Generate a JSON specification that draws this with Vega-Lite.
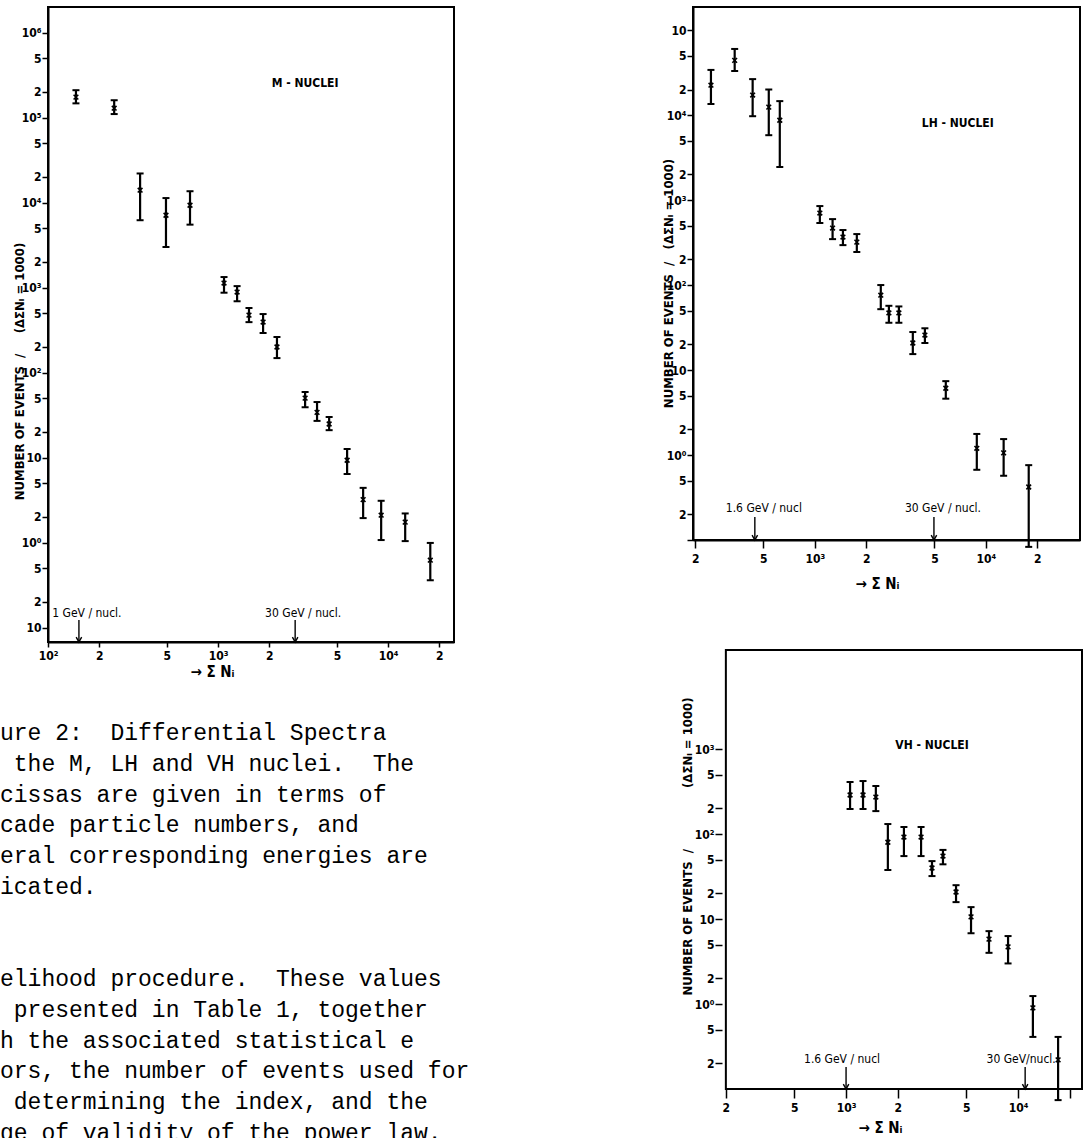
{
  "$schema": "https://vega.github.io/schema/vega-lite/v6.json",
  "autosize": {"type": "pad"},
  "padding": {"left": 0, "top": 6, "right": 0, "bottom": 0},
  "background": "white",
  "config": {
    "view": {"stroke": "black", "strokeWidth": 2},
    "axis": {
      "grid": false, "domainColor": "black", "domainWidth": 2,
      "tickColor": "black", "tickWidth": 1.5, "labelColor": "black",
      "labelFont": "Liberation Sans Narrow, DejaVu Sans Condensed, sans-serif",
      "labelFontWeight": "bold", "labelFontSize": 12, "labelOverlap": false, "labelFlush": false,
      "titleFont": "Liberation Sans Narrow, DejaVu Sans Condensed, sans-serif",
      "titleFontWeight": "bold", "titleFontSize": 13, "titleColor": "black"
    },
    "axisX": {"titleFontSize": 15},
    "text": {"font": "Liberation Sans Narrow, DejaVu Sans Condensed, sans-serif", "fontSize": 12, "color": "black"}
  },
  "datasets": {
    "M": [
      {"n": 146, "v": 174000, "lo": 147000, "hi": 210000},
      {"n": 245, "v": 129000, "lo": 110000, "hi": 160000},
      {"n": 348, "v": 14000, "lo": 6200, "hi": 22000},
      {"n": 494, "v": 7100, "lo": 3000, "hi": 11300},
      {"n": 684, "v": 9300, "lo": 5500, "hi": 13600},
      {"n": 1084, "v": 1130, "lo": 870, "hi": 1330},
      {"n": 1294, "v": 885, "lo": 690, "hi": 1040},
      {"n": 1520, "v": 474, "lo": 392, "hi": 575},
      {"n": 1840, "v": 393, "lo": 292, "hi": 488},
      {"n": 2220, "v": 200, "lo": 148, "hi": 262},
      {"n": 3250, "v": 50, "lo": 39, "hi": 59},
      {"n": 3820, "v": 34, "lo": 27, "hi": 45},
      {"n": 4500, "v": 24.8, "lo": 21, "hi": 30},
      {"n": 5740, "v": 9.3, "lo": 6.4, "hi": 12.6},
      {"n": 7130, "v": 3.2, "lo": 1.94, "hi": 4.4},
      {"n": 9100, "v": 2.1, "lo": 1.07, "hi": 3.1},
      {"n": 12600, "v": 1.74, "lo": 1.04, "hi": 2.2},
      {"n": 17700, "v": 0.62, "lo": 0.36, "hi": 0.99}
    ],
    "LH": [
      {"n": 247, "v": 22500, "lo": 13500, "hi": 34000},
      {"n": 340, "v": 44000, "lo": 33000, "hi": 60000},
      {"n": 433, "v": 17200, "lo": 9700, "hi": 26500},
      {"n": 538, "v": 12400, "lo": 5800, "hi": 20000},
      {"n": 624, "v": 8700, "lo": 2450, "hi": 14600},
      {"n": 1070, "v": 703, "lo": 537, "hi": 850},
      {"n": 1270, "v": 468, "lo": 347, "hi": 597},
      {"n": 1460, "v": 367, "lo": 295, "hi": 444},
      {"n": 1760, "v": 320, "lo": 245, "hi": 398},
      {"n": 2430, "v": 76, "lo": 52, "hi": 100},
      {"n": 2710, "v": 47, "lo": 36, "hi": 57},
      {"n": 3100, "v": 47, "lo": 36, "hi": 56},
      {"n": 3740, "v": 20.8, "lo": 15.4, "hi": 28},
      {"n": 4400, "v": 25.8, "lo": 20.8, "hi": 31},
      {"n": 5830, "v": 6.1, "lo": 4.6, "hi": 7.4},
      {"n": 8850, "v": 1.2, "lo": 0.67, "hi": 1.77},
      {"n": 12700, "v": 1.06, "lo": 0.57, "hi": 1.54},
      {"n": 17800, "v": 0.42, "lo": 0.083, "hi": 0.76}
    ],
    "VH": [
      {"n": 1055, "v": 288, "lo": 197, "hi": 409},
      {"n": 1255, "v": 288, "lo": 197, "hi": 420},
      {"n": 1490, "v": 272, "lo": 186, "hi": 367},
      {"n": 1750, "v": 80, "lo": 37.7, "hi": 131},
      {"n": 2170, "v": 92, "lo": 55, "hi": 121},
      {"n": 2730, "v": 92, "lo": 55, "hi": 121},
      {"n": 3160, "v": 39.8, "lo": 32, "hi": 48},
      {"n": 3660, "v": 55, "lo": 44, "hi": 65},
      {"n": 4360, "v": 20.8, "lo": 15.8, "hi": 25},
      {"n": 5330, "v": 10.6, "lo": 6.8, "hi": 13.8},
      {"n": 6780, "v": 5.8, "lo": 4.0, "hi": 7.2},
      {"n": 8750, "v": 4.7, "lo": 3.0, "hi": 6.3},
      {"n": 12200, "v": 0.9, "lo": 0.41, "hi": 1.24},
      {"n": 17100, "v": 0.22, "lo": 0.074, "hi": 0.41}
    ],
    "ann": [
      {"panel": "M", "label": "1 GeV / nucl.", "n": 152},
      {"panel": "M", "label": "30 GeV / nucl.", "n": 2840},
      {"panel": "LH", "label": "1.6 GeV / nucl", "n": 446},
      {"panel": "LH", "label": "30 GeV / nucl.", "n": 4970},
      {"panel": "VH", "label": "1.6 GeV / nucl", "n": 1000},
      {"panel": "VH", "label": "30 GeV/nucl.", "n": 11000}
    ],
    "caption": [
      {"line": 1, "text": "ure 2:\u00a0\u00a0Differential Spectra"},
      {"line": 2, "text": "\u200b\u00a0the M, LH and VH nuclei.\u00a0\u00a0The"},
      {"line": 3, "text": "cissas are given in terms of"},
      {"line": 4, "text": "cade particle numbers, and"},
      {"line": 5, "text": "eral corresponding energies are"},
      {"line": 6, "text": "icated."},
      {"line": 9, "text": "elihood procedure.\u00a0\u00a0These values"},
      {"line": 10, "text": "\u200b\u00a0presented in Table 1, together"},
      {"line": 11, "text": "h the associated statistical e"},
      {"line": 12, "text": "ors, the number of events used for"},
      {"line": 13, "text": "\u200b\u00a0determining the index, and the"},
      {"line": 14, "text": "ge of validity of the power law."}
    ]
  },
  "columns": 2,
  "bounds": "flush",
  "spacing": {"row": 8, "column": 239},
  "concat": [
    {
      "width": 406, "height": 635,
      "layer": [
        {
          "data": {"name": "M"},
          "mark": {"type": "rule", "strokeWidth": 2.2, "color": "black"},
          "encoding": {
            "x": {"field": "n", "type": "quantitative",
              "scale": {"type": "log", "domain": [100, 24400], "nice": false},
              "axis": {"values": [100, 200, 500, 1000, 2000, 5000, 10000, 20000],
                "labelExpr": "abs(log(datum.value)/LN10 - round(log(datum.value)/LN10)) < 0.01 ? ['10⁰','10','10²','10³','10⁴','10⁵'][round(log(datum.value)/LN10)] : '' + round(datum.value / pow(10, floor(log(datum.value)/LN10 + 0.0001)))",
                "title": "→ Σ Nᵢ", "titleX": 164, "titleY": 29, "titleBaseline": "middle", "titleAlign": "center",
                "tickSize": 5, "labelPadding": 3}},
            "y": {"field": "lo", "type": "quantitative",
              "scale": {"type": "log", "domain": [0.0676, 2000000], "nice": false},
              "axis": {"values": [0.1, 0.2, 0.5, 1, 2, 5, 10, 20, 50, 100, 200, 500, 1000, 2000, 5000, 10000, 20000, 50000, 100000, 200000, 500000, 1000000],
                "labelExpr": "abs(log(datum.value)/LN10 - round(log(datum.value)/LN10)) < 0.01 ? ['10','10⁰','10','10²','10³','10⁴','10⁵','10⁶'][round(log(datum.value)/LN10)+1] : '' + round(datum.value / pow(10, floor(log(datum.value)/LN10 + 0.0001)))",
                "title": "NUMBER OF EVENTS\u00a0\u00a0/\u00a0\u00a0\u00a0\u00a0\u00a0(ΔΣNᵢ = 1000)",
                "titleX": -29, "titleY": 364, "titleBaseline": "middle", "titleAlign": "center",
                "tickSize": 6, "labelPadding": 1}},
            "y2": {"field": "hi"}
          }
        },
        {
          "data": {"name": "M"},
          "mark": {"type": "tick", "orient": "horizontal", "thickness": 2, "size": 7, "color": "black", "opacity": 1},
          "encoding": {"x": {"field": "n", "type": "quantitative"}, "y": {"field": "lo", "type": "quantitative"}}
        },
        {
          "data": {"name": "M"},
          "mark": {"type": "tick", "orient": "horizontal", "thickness": 2, "size": 7, "color": "black", "opacity": 1},
          "encoding": {"x": {"field": "n", "type": "quantitative"}, "y": {"field": "hi", "type": "quantitative"}}
        },
        {
          "data": {"name": "M"},
          "mark": {"type": "point", "shape": "M-1,-1L1,1M-1,1L1,-1", "size": 22, "strokeWidth": 1.6, "color": "black", "filled": false, "opacity": 1},
          "encoding": {"x": {"field": "n", "type": "quantitative"}, "y": {"field": "v", "type": "quantitative"}}
        },
        {
          "data": {"name": "ann"},
          "transform": [{"filter": "datum.panel == 'M'"}],
          "mark": {"type": "rule", "strokeWidth": 1.4, "color": "black"},
          "encoding": {"x": {"field": "n", "type": "quantitative"}, "y": {"datum": 0.1225, "type": "quantitative"}, "y2": {"datum": 0.0676}}
        },
        {
          "data": {"name": "ann"},
          "transform": [{"filter": "datum.panel == 'M'"}],
          "mark": {"type": "point", "shape": "M-1,-1.8L0,0L1,-1.8", "size": 30, "strokeWidth": 1.4, "color": "black", "filled": false, "opacity": 1},
          "encoding": {"x": {"field": "n", "type": "quantitative"}, "y": {"datum": 0.0676, "type": "quantitative"}}
        },
        {
          "data": {"name": "ann"},
          "transform": [{"filter": "datum.panel == 'M'"}],
          "mark": {"type": "text", "align": "center", "baseline": "alphabetic", "dx": 8},
          "encoding": {"x": {"field": "n", "type": "quantitative"}, "y": {"datum": 0.133, "type": "quantitative"}, "text": {"field": "label"}}
        },
        {
          "data": {"values": [{"label": "M - NUCLEI"}]},
          "mark": {"type": "text", "align": "center", "baseline": "middle", "fontWeight": "bold"},
          "encoding": {"x": {"datum": 3250, "type": "quantitative"}, "y": {"datum": 255000, "type": "quantitative"}, "text": {"field": "label"}}
        }
      ]
    },
    {
      "width": 387, "height": 533,
      "layer": [
        {
          "data": {"name": "LH"},
          "mark": {"type": "rule", "strokeWidth": 2.2, "color": "black"},
          "encoding": {
            "x": {"field": "n", "type": "quantitative",
              "scale": {"type": "log", "domain": [194, 35500], "nice": false},
              "axis": {"values": [200, 500, 1000, 2000, 5000, 10000, 20000],
                "labelExpr": "abs(log(datum.value)/LN10 - round(log(datum.value)/LN10)) < 0.01 ? ['10⁰','10','10²','10³','10⁴','10⁵'][round(log(datum.value)/LN10)] : '' + round(datum.value / pow(10, floor(log(datum.value)/LN10 + 0.0001)))",
                "title": "→ Σ Nᵢ", "titleX": 184, "titleY": 43, "titleBaseline": "middle", "titleAlign": "center",
                "tickSize": 8, "labelPadding": 5}},
            "y": {"field": "lo", "type": "quantitative",
              "scale": {"type": "log", "domain": [0.1, 187000], "nice": false},
              "axis": {"values": [0.1, 0.2, 0.5, 1, 2, 5, 10, 20, 50, 100, 200, 500, 1000, 2000, 5000, 10000, 20000, 50000, 100000],
                "labelExpr": "abs(log(datum.value)/LN10 - round(log(datum.value)/LN10)) < 0.01 ? ['','10⁰','10','10²','10³','10⁴','10'][round(log(datum.value)/LN10)+1] : '' + round(datum.value / pow(10, floor(log(datum.value)/LN10 + 0.0001)))",
                "title": "NUMBER OF EVENTS\u00a0\u00a0/\u00a0\u00a0\u00a0(ΔΣNᵢ = 1000)",
                "titleX": -25, "titleY": 276, "titleBaseline": "middle", "titleAlign": "center",
                "tickSize": 6, "labelPadding": 1}},
            "y2": {"field": "hi"}
          }
        },
        {
          "data": {"name": "LH"},
          "mark": {"type": "tick", "orient": "horizontal", "thickness": 2, "size": 7, "color": "black", "opacity": 1},
          "encoding": {"x": {"field": "n", "type": "quantitative"}, "y": {"field": "lo", "type": "quantitative"}}
        },
        {
          "data": {"name": "LH"},
          "mark": {"type": "tick", "orient": "horizontal", "thickness": 2, "size": 7, "color": "black", "opacity": 1},
          "encoding": {"x": {"field": "n", "type": "quantitative"}, "y": {"field": "hi", "type": "quantitative"}}
        },
        {
          "data": {"name": "LH"},
          "mark": {"type": "point", "shape": "M-1,-1L1,1M-1,1L1,-1", "size": 22, "strokeWidth": 1.6, "color": "black", "filled": false, "opacity": 1},
          "encoding": {"x": {"field": "n", "type": "quantitative"}, "y": {"field": "v", "type": "quantitative"}}
        },
        {
          "data": {"name": "ann"},
          "transform": [{"filter": "datum.panel == 'LH'"}],
          "mark": {"type": "rule", "strokeWidth": 1.4, "color": "black"},
          "encoding": {"x": {"field": "n", "type": "quantitative"}, "y": {"datum": 0.187, "type": "quantitative"}, "y2": {"datum": 0.1}}
        },
        {
          "data": {"name": "ann"},
          "transform": [{"filter": "datum.panel == 'LH'"}],
          "mark": {"type": "point", "shape": "M-1,-1.8L0,0L1,-1.8", "size": 30, "strokeWidth": 1.4, "color": "black", "filled": false, "opacity": 1},
          "encoding": {"x": {"field": "n", "type": "quantitative"}, "y": {"datum": 0.1, "type": "quantitative"}}
        },
        {
          "data": {"name": "ann"},
          "transform": [{"filter": "datum.panel == 'LH'"}],
          "mark": {"type": "text", "align": "center", "baseline": "alphabetic", "dx": 9},
          "encoding": {"x": {"field": "n", "type": "quantitative"}, "y": {"datum": 0.213, "type": "quantitative"}, "text": {"field": "label"}}
        },
        {
          "data": {"values": [{"label": "LH - NUCLEI"}]},
          "mark": {"type": "text", "align": "center", "baseline": "middle", "fontWeight": "bold"},
          "encoding": {"x": {"datum": 6850, "type": "quantitative"}, "y": {"datum": 8060, "type": "quantitative"}, "text": {"field": "label"}}
        }
      ]
    },
    {
      "width": 406, "height": 439,
      "view": {"stroke": null},
      "data": {"name": "caption"},
      "mark": {"type": "text", "align": "left", "baseline": "alphabetic", "dx": -48, "font": "Liberation Mono", "fontSize": 23, "color": "black"},
      "encoding": {
        "x": {"datum": 0, "type": "quantitative", "scale": {"domain": [0, 1], "nice": false}, "axis": null},
        "y": {"field": "line", "type": "quantitative", "scale": {"domain": [-1.925, 12.345], "nice": false, "zero": false, "reverse": true}, "axis": null},
        "text": {"field": "text"}
      }
    },
    {
      "width": 389, "height": 439,
      "view": {"stroke": null},
      "layer": [
        {
          "data": {"name": "VH"},
          "mark": {"type": "rule", "strokeWidth": 2.2, "color": "black"},
          "encoding": {
            "x": {"field": "n", "type": "quantitative",
              "scale": {"type": "log", "domain": [128.8, 23550], "nice": false},
              "axis": {"values": [200, 500, 1000, 2000, 5000, 10000, 20000], "domain": false,
                "labelExpr": "datum.value > 15000 ? '' : abs(log(datum.value)/LN10 - round(log(datum.value)/LN10)) < 0.01 ? ['10⁰','10','10²','10³','10⁴','10⁵'][round(log(datum.value)/LN10)] : '' + round(datum.value / pow(10, floor(log(datum.value)/LN10 + 0.0001)))",
                "title": "→ Σ Nᵢ", "titleX": 187, "titleY": 38, "titleBaseline": "middle", "titleAlign": "center",
                "tickSize": 9, "labelPadding": 4}},
            "y": {"field": "lo", "type": "quantitative",
              "scale": {"type": "log", "domain": [0.1, 14620], "nice": false},
              "axis": {"values": [0.2, 0.5, 1, 2, 5, 10, 20, 50, 100, 200, 500, 1000], "offset": -29, "domain": false,
                "labelExpr": "abs(log(datum.value)/LN10 - round(log(datum.value)/LN10)) < 0.01 ? ['','10⁰','10','10²','10³'][round(log(datum.value)/LN10)+1] : '' + round(datum.value / pow(10, floor(log(datum.value)/LN10 + 0.0001)))",
                "title": "NUMBER OF EVENTS\u00a0\u00a0/\u00a0\u00a0\u00a0\u00a0\u00a0\u00a0\u00a0\u00a0\u00a0\u00a0\u00a0\u00a0\u00a0\u00a0\u00a0(ΔΣNᵢ = 1000)",
                "titleX": -35, "titleY": 196, "titleBaseline": "middle", "titleAlign": "center",
                "tickSize": 7, "labelPadding": 1}},
            "y2": {"field": "hi"}
          }
        },
        {
          "data": {"values": [{"f": 1}]},
          "mark": {"type": "rect", "fillOpacity": 0, "stroke": "black", "strokeWidth": 2},
          "encoding": {"x": {"datum": 200, "type": "quantitative"}, "x2": {"datum": 23550}, "y": {"datum": 0.1, "type": "quantitative"}, "y2": {"datum": 14620}}
        },
        {
          "data": {"name": "VH"},
          "mark": {"type": "tick", "orient": "horizontal", "thickness": 2, "size": 7, "color": "black", "opacity": 1},
          "encoding": {"x": {"field": "n", "type": "quantitative"}, "y": {"field": "lo", "type": "quantitative"}}
        },
        {
          "data": {"name": "VH"},
          "mark": {"type": "tick", "orient": "horizontal", "thickness": 2, "size": 7, "color": "black", "opacity": 1},
          "encoding": {"x": {"field": "n", "type": "quantitative"}, "y": {"field": "hi", "type": "quantitative"}}
        },
        {
          "data": {"name": "VH"},
          "mark": {"type": "point", "shape": "M-1,-1L1,1M-1,1L1,-1", "size": 22, "strokeWidth": 1.6, "color": "black", "filled": false, "opacity": 1},
          "encoding": {"x": {"field": "n", "type": "quantitative"}, "y": {"field": "v", "type": "quantitative"}}
        },
        {
          "data": {"name": "ann"},
          "transform": [{"filter": "datum.panel == 'VH'"}],
          "mark": {"type": "rule", "strokeWidth": 1.4, "color": "black"},
          "encoding": {"x": {"field": "n", "type": "quantitative"}, "y": {"datum": 0.1815, "type": "quantitative"}, "y2": {"datum": 0.1}}
        },
        {
          "data": {"name": "ann"},
          "transform": [{"filter": "datum.panel == 'VH'"}],
          "mark": {"type": "point", "shape": "M-1,-1.8L0,0L1,-1.8", "size": 30, "strokeWidth": 1.4, "color": "black", "filled": false, "opacity": 1},
          "encoding": {"x": {"field": "n", "type": "quantitative"}, "y": {"datum": 0.1, "type": "quantitative"}}
        },
        {
          "data": {"name": "ann"},
          "transform": [{"filter": "datum.panel == 'VH'"}],
          "mark": {"type": "text", "align": "center", "baseline": "alphabetic", "dx": -4},
          "encoding": {"x": {"field": "n", "type": "quantitative"}, "y": {"datum": 0.202, "type": "quantitative"}, "text": {"field": "label"}}
        },
        {
          "data": {"values": [{"label": "VH - NUCLEI"}]},
          "mark": {"type": "text", "align": "center", "baseline": "middle", "fontWeight": "bold"},
          "encoding": {"x": {"datum": 3160, "type": "quantitative"}, "y": {"datum": 1115, "type": "quantitative"}, "text": {"field": "label"}}
        }
      ]
    }
  ]
}
